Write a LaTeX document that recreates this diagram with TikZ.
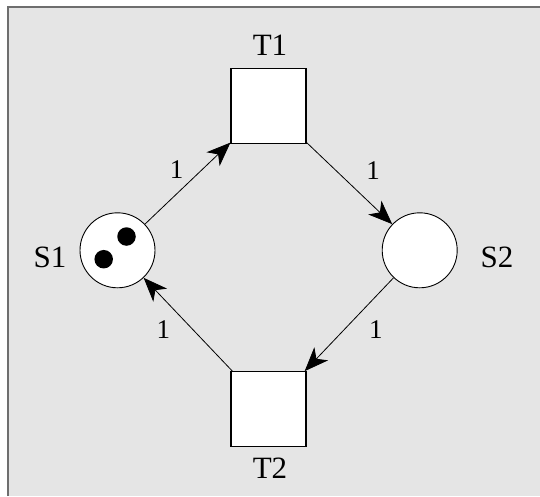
\documentclass[tikz,border=0pt]{standalone}
\usepackage{fontspec}
\setmainfont{Liberation Serif}
\usetikzlibrary{arrows.meta}
\definecolor{bg}{HTML}{E5E5E5}
\definecolor{framegray}{HTML}{6E6E6E}
\begin{document}
\begin{tikzpicture}[x=1pt,y=-1pt,
 pnplace/.style={circle,draw,fill=white,minimum size=75pt,inner sep=0,line width=0.9pt},
 pntrans/.style={rectangle,draw,fill=white,minimum size=75pt,inner sep=0,line width=1.1pt},
 pntoken/.style={circle,fill=black,minimum size=18.5pt,inner sep=0},
 pnname/.style={inner sep=0,font=\fontsize{31}{36}\selectfont},
 pnweight/.style={inner sep=0,font=\fontsize{27}{32}\selectfont},
 pnarc/.style={draw,line width=0.8pt,-{Stealth[length=24pt,width=19pt,inset=7pt]}}]
\useasboundingbox (0,0) rectangle (540,496);
\fill[white] (0,0) rectangle (540,496);
\fill[bg] (8,7) rectangle (540,496);
\draw[framegray, line width=2pt] (8,496) -- (8,7) -- (540,7);
\node[pnplace] (S1) at (117.5,250.3) {};
\node[pnplace] (S2) at (419.7,250.3) {};
\node[pntrans] (T1) at (268.5,106.3) {};
\node[pntrans] (T2) at (268.5,409.2) {};
\node[pntoken] (k1) at (126.5,236.5) {};
\node[pntoken] (k2) at (103.7,259.2) {};
\node[pnname] (lT1) at (270,45) {T1};
\node[pnname] (lT2) at (270,468) {T2};
\node[pnname] (lS1) at (50,257) {S1};
\node[pnname] (lS2) at (497,257) {S2};
\draw[pnarc] (S1) -- (T1);
\draw[pnarc] (T1) -- (S2);
\draw[pnarc] (S2) -- (T2);
\draw[pnarc] (T2) -- (S1);
\node[pnweight] (w1) at (176.7,169.7) {1};
\node[pnweight] (w2) at (373,170.5) {1};
\node[pnweight] (w3) at (375.8,329.2) {1};
\node[pnweight] (w4) at (163.3,329.2) {1};
\end{tikzpicture}
\end{document}
